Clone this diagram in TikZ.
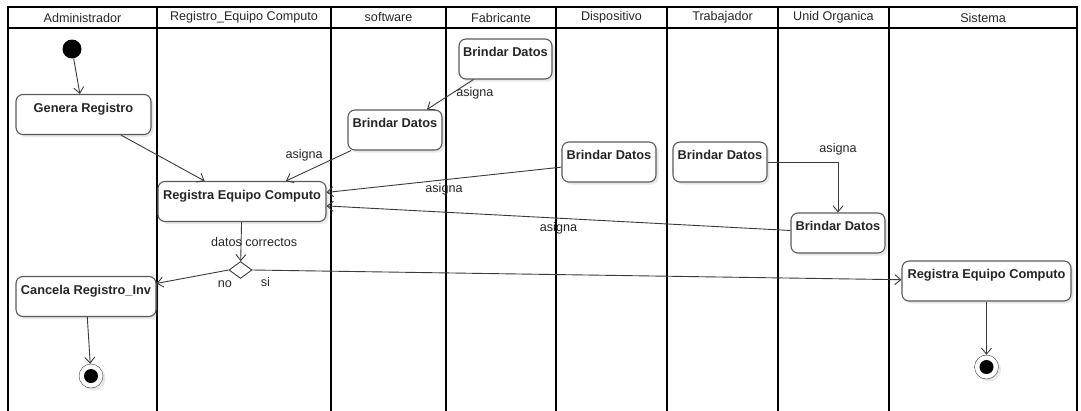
\documentclass[tikz,border=0pt]{standalone}
\usepackage{fontspec}
\setmainfont{Liberation Sans}
\usetikzlibrary{arrows.meta, shapes.geometric, shadows}
\definecolor{borde}{HTML}{5A5A5A}
\definecolor{linea}{HTML}{3A3A3A}
\definecolor{texto}{HTML}{262626}

\begin{document}
\begin{tikzpicture}[x=1pt,y=-1pt,font=\fontsize{12.6}{15}\selectfont,text=texto,
		carril/.style={line width=1.3pt},
		sombra/.style={drop shadow={opacity=0.18,shadow xshift=2.5pt,shadow yshift=-2.5pt}},
		act/.style={draw=borde,line width=1.1pt,rounded corners=7pt,fill=white,sombra,inner sep=3pt,
			text height=14.5pt,text depth=19.5pt,font=\fontsize{12.8}{15}\selectfont\bfseries},
		flujo/.style={draw=linea,line width=0.9pt,-{Straight Barb[length=6pt,width=10pt]}},
		inicio/.style={circle,fill=black,minimum size=19pt,inner sep=0pt},
		final/.style={circle,draw=linea,fill=white,sombra,minimum size=24pt,inner sep=0pt,
			path picture={\fill[black](path picture bounding box.center)circle(7pt);}},
		decision/.style={diamond,draw=linea,line width=0.9pt,fill=white,minimum width=23pt,minimum height=17pt,inner sep=0pt}]
	\useasboundingbox(0,0)rectangle(1081,410);
	% carriles
	\draw[carril](8,7)rectangle(1077,28);
	\draw[carril](8,7)--(8,412)(157,7)--(157,412)(331,7)--(331,412)(446,7)--(446,412)(556,7)--(556,412)
		(667,7)--(667,412)(778,7)--(778,412)(889,7)--(889,412)(1077,7)--(1077,412);
	\node(adm)at(82.5,17.5){Administrador};
	\node(req)at(244,17.5){Registro\_Equipo Computo};
	\node(sof)at(388.5,17.5){software};
	\node(fab)at(501,17.5){Fabricante};
	\node(dis)at(611.5,17.5){Dispositivo};
	\node(tra)at(722.5,17.5){Trabajador};
	\node(uni)at(833.5,17.5){Unid Organica};
	\node(sist)at(983,17.5){Sistema};
	% actividades
	\node[inicio](ini)at(72,49){};
	\node[act,minimum width=135pt](gen)at(83.5,114.5){Genera Registro};
	\node[act,minimum width=168pt](reg)at(242,201.5){Registra Equipo Computo};
	\node[act,minimum width=94pt](bdsoft)at(395,130){Brindar Datos};
	\node[act,minimum width=93pt](bdfab)at(505.5,59){Brindar Datos};
	\node[act,minimum width=94pt](bddis)at(609,162){Brindar Datos};
	\node[act,minimum width=94pt](bdtra)at(720,162){Brindar Datos};
	\node[act,minimum width=94pt](bduni)at(838,233){Brindar Datos};
	\node[decision](dec)at(240.5,270){};
	\node[act,minimum width=140pt](can)at(86,296.5){Cancela Registro\_Inv};
	\node[act,minimum width=169pt](sis)at(986.5,281){Registra Equipo Computo};
	\node[final](fin1)at(91,376){};
	\node[final](fin2)at(986.5,367){};
	% flujos
	\draw[flujo](ini)--(gen);
	\draw[flujo](gen)--(reg);
	\draw[flujo](bdsoft)--(reg)node[pos=0.72,above=8pt]{asigna};
	\draw[flujo](bdfab)--(bdsoft)node[pos=0.45,right]{asigna};
	\draw[flujo](bddis)--(reg)node[midway,below]{asigna};
	\draw[flujo](bduni)--(reg)node[midway,below]{asigna};
	\draw[flujo](bdtra)-|(bduni)node[pos=0.5,above=3pt]{asigna};
	\draw[flujo](reg)--(dec)node[midway,xshift=13pt]{datos correctos};
	\draw[flujo](dec.west)--(can)node[pos=0.05,below=6pt]{no};
	\draw[flujo](dec.east)--(sis)node[pos=0.02,below=3pt]{si};
	\draw[flujo](can)--(fin1);
	\draw[flujo](sis)--(fin2);
\end{tikzpicture}
\end{document}
